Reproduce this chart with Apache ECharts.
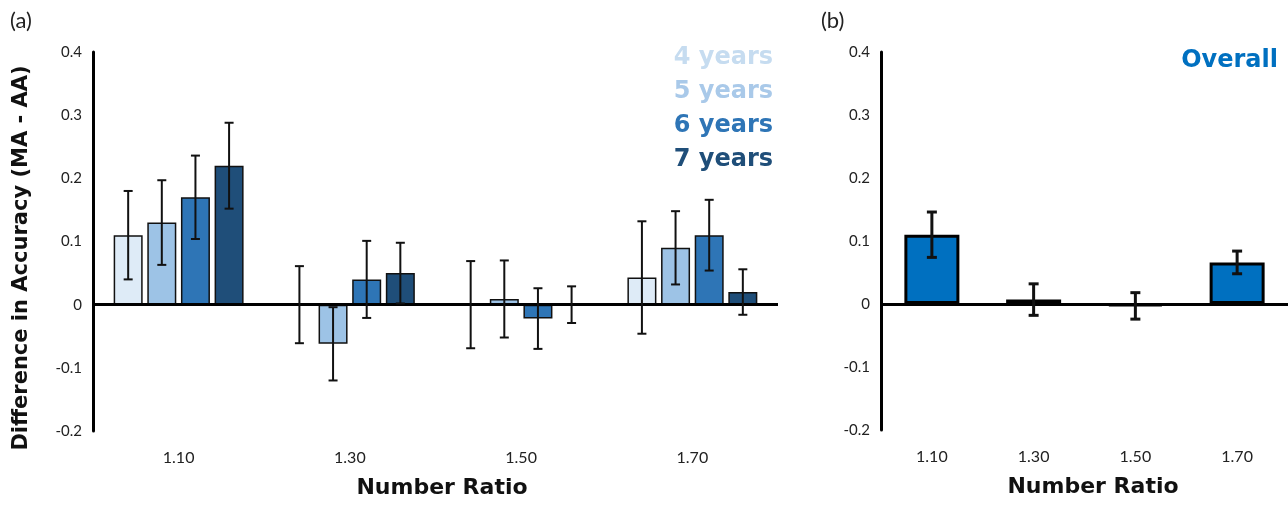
<!DOCTYPE html>
<html><head><meta charset="utf-8">
<script src="https://cdn.jsdelivr.net/npm/echarts@6/dist/echarts.min.js"></script>
<style>html,body{margin:0;padding:0;background:#fff}#c{width:1288px;height:505px}</style>
</head><body><div id="c"></div>
<script>
const categories = ['1.10', '1.30', '1.50', '1.70'];
const ageGroups = ['4 years', '5 years', '6 years', '7 years'];
const age4 = [0.11, 0, 0, 0.043];
const age5 = [0.13, -0.062, 0.009, 0.09];
const age6 = [0.17, 0.04, -0.022, 0.11];
const age7 = [0.22, 0.05, 0, 0.02];
const err4 = [0.07, 0.061, 0.069, 0.089];
const err5 = [0.067, 0.058, 0.061, 0.058];
const err6 = [0.066, 0.061, 0.048, 0.056];
const err7 = [0.068, 0.048, 0.029, 0.036];
const overall = [0.11, 0.007, -0.003, 0.066];
const overallErr = [0.036, 0.025, 0.021, 0.018];
const yMin = -0.2, yMax = 0.4, yStep = 0.1;

const barFill = ['#deebf7', '#9dc3e6', '#2e75b6', '#1f4e79'];
const legendColor = ['#c6dcf0', '#a9c9e9', '#2e75b6', '#1f4e79'];
const overallColor = '#0070c0';
const FONT = 'Lato, "Open Sans", sans-serif';
const BOLD = '"DejaVu Sans", Lato, sans-serif';

const chart = echarts.init(document.getElementById('c'));
const ageVals = [age4, age5, age6, age7];
const ageErrs = [err4, err5, err6, err7];
const BW = 29, GAP = 0.16, STEP = BW * (1 + GAP);

function errRender(off, capW, lw) {
  return function (params, api) {
    const x = api.value(0);
    const lo = api.coord([x, api.value(1)]);
    const hi = api.coord([x, api.value(2)]);
    const cx = lo[0] + off;
    const st = { stroke: '#111', lineWidth: lw };
    return {
      type: 'group',
      children: [
        { type: 'line', shape: { x1: cx, y1: lo[1], x2: cx, y2: hi[1] }, style: st },
        { type: 'line', shape: { x1: cx - capW / 2, y1: lo[1], x2: cx + capW / 2, y2: lo[1] }, style: st },
        { type: 'line', shape: { x1: cx - capW / 2, y1: hi[1], x2: cx + capW / 2, y2: hi[1] }, style: st }
      ]
    };
  };
}

function yAxisDef(gi) {
  return {
    type: 'value', gridIndex: gi, min: yMin, max: yMax, interval: yStep,
    axisLine: { show: true, lineStyle: { color: '#000', width: 3 } },
    axisTick: { show: false }, splitLine: { show: false },
    axisLabel: { color: '#222', fontSize: 15, margin: 11, fontFamily: FONT }
  };
}
function xAxisDef(gi, pad) {
  return {
    type: 'category', gridIndex: gi, data: categories,
    axisLine: { show: false }, axisTick: { show: false },
    axisLabel: { color: '#222', fontSize: 16, margin: 19, fontFamily: FONT },
    name: 'Number Ratio', nameLocation: 'middle', nameGap: 46,
    nameTextStyle: { color: '#111', fontSize: 22, fontWeight: 'bold', fontFamily: BOLD, padding: [0, 0, 0, pad] }
  };
}
const zeroLine = {
  silent: true, symbol: 'none', label: { show: false },
  lineStyle: { color: '#000', width: 3, type: 'solid' },
  data: [{ yAxis: 0 }]
};

const series = [];
ageGroups.forEach((name, i) => {
  series.push({
    name: name, type: 'bar', xAxisIndex: 0, yAxisIndex: 0,
    data: ageVals[i], barWidth: BW, barGap: (GAP * 100) + '%',
    itemStyle: { color: barFill[i], borderColor: '#111', borderWidth: 1.5 },
    markLine: i === 0 ? zeroLine : undefined,
    z: 2
  });
});
ageGroups.forEach((name, i) => {
  series.push({
    name: 'err' + i, type: 'custom', xAxisIndex: 0, yAxisIndex: 0,
    renderItem: errRender((i - 1.5) * STEP, 9, 2),
    encode: { x: 0, y: [1, 2] },
    data: categories.map((c, k) => [k, ageVals[i][k] - ageErrs[i][k], ageVals[i][k] + ageErrs[i][k]]),
    z: 5
  });
});
series.push({
  name: 'Overall', type: 'bar', xAxisIndex: 1, yAxisIndex: 1,
  data: overall, barWidth: 55,
  itemStyle: { color: overallColor, borderColor: '#000', borderWidth: 3 },
  markLine: zeroLine, z: 2
});
series.push({
  name: 'errOverall', type: 'custom', xAxisIndex: 1, yAxisIndex: 1,
  renderItem: errRender(0, 10, 3),
  encode: { x: 0, y: [1, 2] },
  data: categories.map((c, k) => [k, overall[k] - overallErr[k], overall[k] + overallErr[k]]),
  z: 5
});

chart.setOption({
  animation: false,
  backgroundColor: '#fff',
  grid: [
    { left: 93, top: 52, width: 685, height: 379 },
    { left: 881, top: 52, width: 407, height: 378 }
  ],
  xAxis: [xAxisDef(0, 13), xAxisDef(1, 17)],
  yAxis: [yAxisDef(0), yAxisDef(1)],
  legend: [
    {
      orient: 'vertical', right: 510, top: 41, icon: 'none', itemWidth: 0, itemHeight: 24, itemGap: 10,
      selectedMode: false,
      textStyle: { fontSize: 24, fontWeight: 'bold', fontFamily: BOLD },
      data: ageGroups.map((n, i) => ({ name: n, textStyle: { color: legendColor[i] } }))
    },
    {
      right: 5, top: 44, icon: 'none', itemWidth: 0, selectedMode: false,
      textStyle: { fontSize: 24, fontWeight: 'bold', fontFamily: BOLD },
      data: [{ name: 'Overall', textStyle: { color: overallColor } }]
    }
  ],
  graphic: [
    { type: 'text', left: 10, top: 10, style: { text: '(a)', fontSize: 22, fill: '#222', fontFamily: FONT } },
    { type: 'text', left: 821, top: 10, style: { text: '(b)', fontSize: 22, fill: '#222', fontFamily: FONT } },
    { type: 'text', x: 22, y: 258, rotation: Math.PI / 2,
      style: { text: 'Difference in Accuracy (MA - AA)', fontSize: 21, fontWeight: 'bold', fill: '#111',
               fontFamily: BOLD, align: 'center', verticalAlign: 'middle' } }
  ],
  series: series
});
</script></body></html>
